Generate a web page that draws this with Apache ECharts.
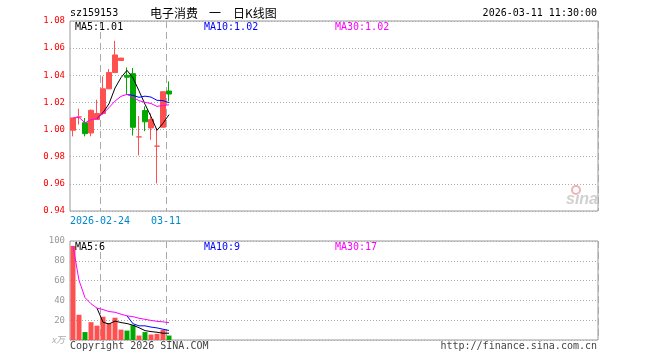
<!DOCTYPE html>
<html>
<head>
<meta charset="utf-8">
<script src="https://cdn.jsdelivr.net/npm/echarts@6/dist/echarts.min.js"></script>
<style>
html,body{margin:0;padding:0;background:#fff;}
#c{width:660px;height:360px;}
</style>
</head>
<body>
<div id="c"></div>
<script>
// ---- data ----
const dates  = ['2026-02-09','2026-02-10','2026-02-11','2026-02-12','2026-02-13','2026-02-24','2026-02-25','2026-02-26','2026-02-27','2026-03-02','2026-03-03','2026-03-04','2026-03-05','2026-03-06','2026-03-09','2026-03-10','2026-03-11'];
const opens  = [0.9995, 1.0093, 1.0050, 0.9975, 1.0074, 1.0118, 1.0300, 1.0420, 1.0509, 1.0400, 1.0412, 0.9946, 1.0140, 1.0012, 0.9878, 1.0017, 1.0284];
const closes = [1.0086, 1.0093, 0.9970, 1.0142, 1.0118, 1.0300, 1.0420, 1.0550, 1.0527, 1.0386, 1.0017, 0.9946, 1.0057, 1.0074, 0.9878, 1.0279, 1.0262];
const highs  = [1.0086, 1.0154, 1.0086, 1.0147, 1.0220, 1.0392, 1.0446, 1.0654, 1.0527, 1.0458, 1.0453, 1.0100, 1.0171, 1.0120, 1.0012, 1.0279, 1.0355];
const lows   = [0.9950, 1.0037, 0.9950, 0.9950, 1.0074, 1.0110, 1.0300, 1.0420, 1.0509, 1.0257, 0.9956, 0.9810, 0.9988, 0.9925, 0.9603, 1.0017, 1.0208];
const volumes = [95, 25.5, 8, 18, 14.5, 23.5, 17, 22.5, 10.5, 9.5, 15, 4.5, 8, 5.5, 6.2, 10.2, 4.5];
const totalSlots = 88;
const xTickDates = ['2026-02-24', '2026-03-11'];
const xTickTexts = ['2026-02-24', '03-11'];
const priceTicks = {min: 0.94, max: 1.08, step: 0.02};
const volTicks = {min: 0, max: 100, step: 20};
const priceLegend = ['MA5:1.01', 'MA10:1.02', 'MA30:1.02'];
const volLegend = ['MA5:6', 'MA10:9', 'MA30:17'];
const titleCode = 'sz159153';
const titleParts = ['电子消费', '一', '日K线图'];
const timeStamp = '2026-03-11 11:30:00';
const copyright = 'Copyright 2026 SINA.COM';
const siteUrl = 'http://finance.sina.com.cn';

// ---- derived ----
const RED = '#ff5050', GREEN = '#00a800';
const cats = dates.concat(Array.from({length: totalSlots - dates.length}, (_, i) => '_' + i));
function ma(arr, n, partial) {
  return arr.map((_, i) => {
    if (i < n - 1 && !partial) return null;
    const s = Math.max(0, i - n + 1);
    let sum = 0;
    for (let k = s; k <= i; k++) sum += arr[k];
    return +(sum / (i - s + 1)).toFixed(5);
  });
}
const up = closes.map((c, i) => c >= opens[i]);
const candleData = dates.map((d, i) => ({
  value: [opens[i], closes[i], lows[i], highs[i]],
  itemStyle: {color: up[i] ? RED : GREEN, color0: up[i] ? RED : GREEN, borderColor: up[i] ? RED : GREEN, borderColor0: up[i] ? RED : GREEN}
}));
const volData = volumes.map((v, i) => ({value: v, itemStyle: {color: up[i] ? RED : GREEN}}));
const tickIdx = xTickDates.map(d => cats.indexOf(d));
const tickFn = (index) => tickIdx.indexOf(index) >= 0;
const MONO = 'DejaVu Sans Mono';
const CJK = '12px "Noto Sans CJK SC"';

const chart = echarts.init(document.getElementById('c'), null, {renderer: 'canvas'});
const splitX = {show: true, interval: tickFn, lineStyle: {color: '#aaa', width: 1, type: [7, 4]}};
const lineS = (name, data, color, xi, yi) => ({
  name, type: 'line', data, xAxisIndex: xi, yAxisIndex: yi, symbol: 'none', smooth: false,
  lineStyle: {color, width: 1}, itemStyle: {color}, silent: true, z: 5
});
function txt(x, y, text, fill, opts) {
  opts = opts || {};
  return {type: 'text', x, y, silent: true, z: 100,
    style: {text, fill, font: opts.font || ('10px "' + MONO + '"'), align: opts.align || 'left', verticalAlign: 'middle'}};
}

const option = {
  animation: false,
  backgroundColor: '#fff',
  grid: [
    {left: 70, top: 21, width: 528, height: 190, show: true, borderColor: '#999', borderWidth: 1},
    {left: 70, top: 241, width: 528, height: 99, show: true, borderColor: '#999', borderWidth: 1}
  ],
  xAxis: [
    {type: 'category', gridIndex: 0, data: cats, boundaryGap: true,
     axisLine: {show: false}, axisTick: {show: false},
     axisLabel: {interval: tickFn, formatter: (v) => { const k = xTickDates.indexOf(v); return k >= 0 ? xTickTexts[k] : ''; },
       color: '#0088cc', fontFamily: MONO, fontSize: 10, margin: 5, padding: [0, 6, 0, 0]},
     splitLine: splitX},
    {type: 'category', gridIndex: 1, data: cats, boundaryGap: true,
     axisLine: {show: false}, axisTick: {show: false}, axisLabel: {show: false},
     splitLine: splitX}
  ],
  yAxis: [
    {type: 'value', gridIndex: 0, min: priceTicks.min, max: priceTicks.max, interval: priceTicks.step, scale: false,
     axisLine: {show: false}, axisTick: {show: false},
     axisLabel: {color: '#ff0000', fontFamily: MONO, fontSize: 9, margin: 5, formatter: (v) => v.toFixed(2)},
     splitLine: {show: true, lineStyle: {color: '#aaa', width: 1, type: [1, 2]}}},
    {type: 'value', gridIndex: 1, min: volTicks.min, max: volTicks.max, interval: volTicks.step,
     axisLine: {show: false}, axisTick: {show: false},
     axisLabel: {color: '#999', fontFamily: MONO, fontSize: 9, margin: 5,
       formatter: (v) => v === 0 ? '{u|x万}' : String(v),
       rich: {u: {color: '#aaa', fontSize: 9, fontStyle: 'italic', fontFamily: 'Noto Sans CJK SC'}}},
     splitLine: {show: true, lineStyle: {color: '#aaa', width: 1, type: [1, 2]}}}
  ],
  series: [
    {type: 'candlestick', name: 'K', data: candleData, xAxisIndex: 0, yAxisIndex: 0, barWidth: 5, silent: true, z: 3,
     itemStyle: {borderWidth: 1}},
    lineS('MA5', ma(closes, 5, false), '#000000', 0, 0),
    lineS('MA10', ma(closes, 10, false), '#0000ff', 0, 0),
    lineS('MA30', ma(closes, 30, true), '#ff00ff', 0, 0),
    {type: 'bar', name: 'VOL', data: volData, xAxisIndex: 1, yAxisIndex: 1, barWidth: 5, silent: true, z: 3},
    lineS('VMA5', ma(volumes, 5, false), '#000000', 1, 1),
    lineS('VMA10', ma(volumes, 10, false), '#0000ff', 1, 1),
    lineS('VMA30', ma(volumes, 30, true), '#ff00ff', 1, 1)
  ],
  graphic: [
    txt(70, 13, titleCode, '#000'),
    txt(150, 13, titleParts[0], '#000', {font: CJK}),
    txt(215, 13, titleParts[1], '#000', {align: 'center', font: CJK}),
    txt(233, 13, titleParts[2], '#000', {font: CJK}),
    txt(597, 13, timeStamp, '#000', {align: 'right'}),
    txt(75, 27, priceLegend[0], '#000'),
    txt(204, 27, priceLegend[1], '#0000ff'),
    txt(335, 27, priceLegend[2], '#ff00ff'),
    txt(75, 247, volLegend[0], '#000'),
    txt(204, 247, volLegend[1], '#0000ff'),
    txt(335, 247, volLegend[2], '#ff00ff'),
    txt(70, 346, copyright, '#444'),
    txt(597, 346, siteUrl, '#444', {align: 'right'}),
    {type: 'circle', shape: {cx: 576, cy: 190, r: 4}, silent: true, z: 1,
     style: {fill: 'none', stroke: '#f4b0b0', lineWidth: 2}},
    txt(566, 200, 'sina', '#d0d0d0', {font: 'italic bold 16px "Liberation Sans"'})
  ]
};
chart.setOption(option);
</script>
</body>
</html>
